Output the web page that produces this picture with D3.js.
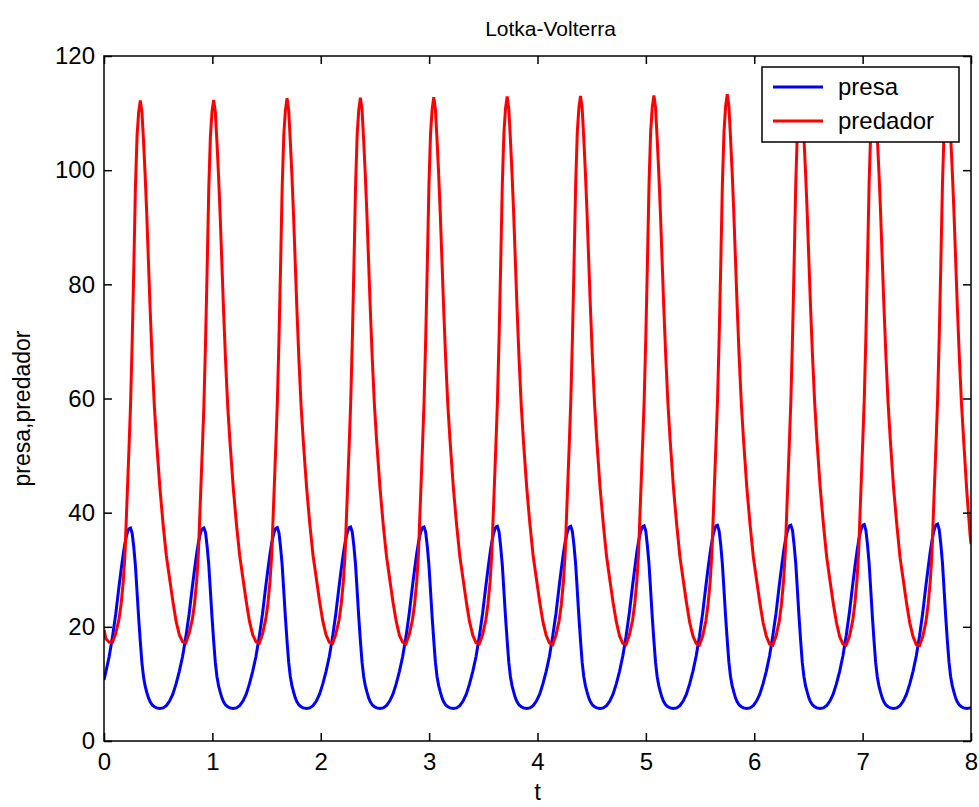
<!DOCTYPE html>
<html><head><meta charset="utf-8">
<script src="https://cdn.jsdelivr.net/npm/d3@7"></script>
<style>
html,body{margin:0;padding:0;background:#fff;}
svg text{font-family:"Liberation Sans",Arial,sans-serif;fill:#000;}
</style></head><body>
<svg id="chart" width="979" height="807"></svg>
<script>
// ---- data ----
const t = [
 0, 0.018, 0.048, 0.078, 0.108, 0.138, 0.158, 0.178, 0.193, 0.208, 0.223, 0.233,
 0.245, 0.260, 0.275, 0.290, 0.305, 0.320, 0.335, 0.350, 0.365, 0.380, 0.395, 0.410, 0.425, 0.445, 0.465, 0.485, 0.515, 0.545, 0.575, 0.605, 0.635, 0.665, 0.695, 0.725, 0.755, 0.785, 0.815, 0.835, 0.855, 0.870, 0.885, 0.900, 0.910,
 0.922, 0.937, 0.952, 0.967, 0.982, 0.997, 1.012, 1.027, 1.042, 1.057, 1.072, 1.087, 1.102, 1.122, 1.142, 1.162, 1.192, 1.222, 1.252, 1.282, 1.312, 1.342, 1.372, 1.402, 1.432, 1.462, 1.492, 1.512, 1.532, 1.547, 1.562, 1.577, 1.587,
 1.599, 1.614, 1.629, 1.644, 1.659, 1.674, 1.689, 1.704, 1.719, 1.734, 1.749, 1.764, 1.779, 1.799, 1.819, 1.839, 1.869, 1.899, 1.929, 1.959, 1.989, 2.019, 2.049, 2.079, 2.109, 2.139, 2.169, 2.189, 2.209, 2.224, 2.239, 2.254, 2.264,
 2.276, 2.291, 2.306, 2.321, 2.336, 2.351, 2.366, 2.381, 2.396, 2.411, 2.426, 2.441, 2.456, 2.476, 2.496, 2.516, 2.546, 2.576, 2.606, 2.636, 2.666, 2.696, 2.726, 2.756, 2.786, 2.816, 2.846, 2.866, 2.886, 2.901, 2.916, 2.931, 2.941,
 2.953, 2.968, 2.983, 2.998, 3.013, 3.028, 3.043, 3.058, 3.073, 3.088, 3.103, 3.118, 3.133, 3.153, 3.173, 3.193, 3.223, 3.253, 3.283, 3.313, 3.343, 3.373, 3.403, 3.433, 3.463, 3.493, 3.523, 3.543, 3.563, 3.578, 3.593, 3.608, 3.618,
 3.630, 3.645, 3.660, 3.675, 3.690, 3.705, 3.720, 3.735, 3.750, 3.765, 3.780, 3.795, 3.810, 3.830, 3.850, 3.870, 3.900, 3.930, 3.960, 3.990, 4.020, 4.050, 4.080, 4.110, 4.140, 4.170, 4.200, 4.220, 4.240, 4.255, 4.270, 4.285, 4.295,
 4.307, 4.322, 4.337, 4.352, 4.367, 4.382, 4.397, 4.412, 4.427, 4.442, 4.457, 4.472, 4.487, 4.507, 4.527, 4.547, 4.577, 4.607, 4.637, 4.667, 4.697, 4.727, 4.757, 4.787, 4.817, 4.847, 4.877, 4.897, 4.917, 4.932, 4.947, 4.962, 4.972,
 4.984, 4.999, 5.014, 5.029, 5.044, 5.059, 5.074, 5.089, 5.104, 5.119, 5.134, 5.149, 5.164, 5.184, 5.204, 5.224, 5.254, 5.284, 5.314, 5.344, 5.374, 5.404, 5.434, 5.464, 5.494, 5.524, 5.554, 5.574, 5.594, 5.609, 5.624, 5.639, 5.649,
 5.661, 5.676, 5.691, 5.706, 5.721, 5.736, 5.751, 5.766, 5.781, 5.796, 5.811, 5.826, 5.841, 5.861, 5.881, 5.901, 5.931, 5.961, 5.991, 6.021, 6.051, 6.081, 6.111, 6.141, 6.171, 6.201, 6.231, 6.251, 6.271, 6.286, 6.301, 6.316, 6.326,
 6.338, 6.353, 6.368, 6.383, 6.398, 6.413, 6.428, 6.443, 6.458, 6.473, 6.488, 6.503, 6.518, 6.538, 6.558, 6.578, 6.608, 6.638, 6.668, 6.698, 6.728, 6.758, 6.788, 6.818, 6.848, 6.878, 6.908, 6.928, 6.948, 6.963, 6.978, 6.993, 7.003,
 7.015, 7.030, 7.045, 7.060, 7.075, 7.090, 7.105, 7.120, 7.135, 7.150, 7.165, 7.180, 7.195, 7.215, 7.235, 7.255, 7.285, 7.315, 7.345, 7.375, 7.405, 7.435, 7.465, 7.495, 7.525, 7.555, 7.585, 7.605, 7.625, 7.640, 7.655, 7.670, 7.680,
 7.692, 7.707, 7.722, 7.737, 7.752, 7.767, 7.782, 7.797, 7.812, 7.827, 7.842, 7.857, 7.872, 7.892, 7.912, 7.932, 7.962, 7.992, 8.000
];
const presa = [
 10.7, 12.2, 14.8, 18.2, 22.2, 27.0, 30.0, 32.8, 34.6, 36.0, 37.0, 37.2,
 37.3, 36.4, 33.9, 30.7, 26.1, 21.5, 17.4, 13.7, 11.2, 9.6, 8.5, 7.6, 6.9, 6.3, 6.0, 5.8, 5.7, 5.8, 6.2, 7.0, 8.2, 10.0, 12.2, 14.8, 18.2, 22.2, 27.0, 30.0, 32.8, 34.6, 36.0, 37.0, 37.2,
 37.3, 36.5, 34.0, 30.8, 26.2, 21.6, 17.5, 13.8, 11.3, 9.7, 8.6, 7.6, 6.9, 6.3, 6.0, 5.8, 5.7, 5.8, 6.2, 7.0, 8.2, 10.0, 12.2, 14.8, 18.2, 22.2, 27.0, 30.0, 32.8, 34.6, 36.0, 37.0, 37.3,
 37.4, 36.5, 34.0, 30.8, 26.2, 21.6, 17.5, 13.8, 11.3, 9.7, 8.6, 7.6, 6.9, 6.3, 6.0, 5.8, 5.7, 5.8, 6.2, 7.0, 8.2, 10.0, 12.2, 14.8, 18.2, 22.3, 27.1, 30.1, 32.9, 34.7, 36.1, 37.1, 37.4,
 37.5, 36.6, 34.1, 30.9, 26.3, 21.6, 17.5, 13.8, 11.3, 9.7, 8.6, 7.6, 6.9, 6.3, 6.0, 5.8, 5.7, 5.8, 6.2, 7.0, 8.2, 10.0, 12.2, 14.8, 18.2, 22.3, 27.1, 30.1, 32.9, 34.7, 36.1, 37.1, 37.4,
 37.5, 36.6, 34.1, 30.9, 26.3, 21.7, 17.6, 13.8, 11.3, 9.7, 8.6, 7.6, 6.9, 6.3, 6.0, 5.8, 5.7, 5.8, 6.2, 7.0, 8.2, 10.0, 12.2, 14.8, 18.3, 22.3, 27.1, 30.1, 33.0, 34.8, 36.2, 37.2, 37.5,
 37.6, 36.7, 34.1, 30.9, 26.3, 21.7, 17.6, 13.8, 11.3, 9.7, 8.6, 7.6, 6.9, 6.3, 6.0, 5.8, 5.7, 5.8, 6.2, 7.0, 8.2, 10.0, 12.2, 14.8, 18.3, 22.3, 27.1, 30.2, 33.0, 34.8, 36.2, 37.2, 37.5,
 37.6, 36.7, 34.2, 31.0, 26.4, 21.7, 17.6, 13.8, 11.3, 9.7, 8.6, 7.6, 6.9, 6.3, 6.0, 5.8, 5.7, 5.8, 6.2, 7.0, 8.2, 10.0, 12.2, 14.9, 18.3, 22.4, 27.2, 30.2, 33.1, 34.9, 36.3, 37.3, 37.6,
 37.7, 36.8, 34.2, 31.0, 26.4, 21.7, 17.6, 13.8, 11.3, 9.7, 8.6, 7.6, 6.9, 6.3, 6.0, 5.8, 5.7, 5.8, 6.2, 7.0, 8.2, 10.0, 12.2, 14.9, 18.3, 22.4, 27.2, 30.3, 33.1, 34.9, 36.4, 37.4, 37.7,
 37.8, 36.8, 34.3, 31.0, 26.4, 21.7, 17.6, 13.8, 11.3, 9.7, 8.6, 7.6, 6.9, 6.3, 6.0, 5.8, 5.7, 5.8, 6.2, 7.0, 8.2, 10.0, 12.2, 14.9, 18.4, 22.4, 27.3, 30.3, 33.2, 35.0, 36.4, 37.4, 37.7,
 37.8, 36.9, 34.3, 31.1, 26.5, 21.8, 17.6, 13.8, 11.3, 9.7, 8.6, 7.6, 6.9, 6.3, 6.0, 5.8, 5.7, 5.8, 6.2, 7.0, 8.2, 10.0, 12.2, 14.9, 18.4, 22.5, 27.3, 30.4, 33.2, 35.1, 36.5, 37.5, 37.8,
 37.9, 36.9, 34.4, 31.1, 26.5, 21.8, 17.6, 13.8, 11.3, 9.7, 8.6, 7.6, 6.9, 6.3, 6.0, 5.8, 5.7, 5.8, 6.2, 7.0, 8.2, 10.0, 12.2, 14.9, 18.4, 22.5, 27.4, 30.4, 33.3, 35.1, 36.6, 37.6, 37.9,
 38.0, 37.0, 34.4, 31.1, 26.4, 21.7, 17.5, 13.8, 11.3, 9.7, 8.6, 7.6, 6.9, 6.3, 6.0, 5.8, 5.7, 5.8, 5.8
];
const predador = [
 19.5, 17.9, 17.3, 17.3, 18.8, 21.3, 24.0, 28.0, 32.5, 40.0, 47.5, 52.5,
 59, 70, 83, 97, 106, 110.2, 112.2, 110.2, 105, 99, 92, 84, 76, 66.5, 58.5, 52.5, 44.5, 38, 32.5, 28.5, 24.5, 21, 18.6, 17.4, 17.2, 18.8, 21.3, 24, 28, 32.5, 40, 47.5, 52.5,
 59, 70, 83, 97, 106, 110.3, 112.3, 110.3, 105, 99, 92, 84, 76, 66.5, 58.5, 52.5, 44.5, 38, 32.5, 28.5, 24.5, 21, 18.6, 17.4, 17.1, 18.7, 21.3, 24, 28, 32.5, 40, 47.5, 52.6,
 59, 70, 83, 97, 106.2, 110.5, 112.6, 110.5, 105.1, 99.1, 92.1, 84.1, 76.1, 66.6, 58.6, 52.5, 44.5, 38, 32.5, 28.5, 24.5, 21, 18.6, 17.3, 17.1, 18.7, 21.2, 24, 28, 32.6, 40.1, 47.6, 52.7,
 59.1, 70.1, 83.1, 97.1, 106.3, 110.6, 112.7, 110.6, 105.2, 99.2, 92.2, 84.2, 76.2, 66.7, 58.6, 52.5, 44.5, 38, 32.5, 28.4, 24.4, 21, 18.5, 17.3, 17.0, 18.6, 21.2, 24, 28, 32.6, 40.2, 47.7, 52.8,
 59.2, 70.2, 83.2, 97.2, 106.4, 110.7, 112.8, 110.7, 105.3, 99.3, 92.3, 84.3, 76.3, 66.8, 58.7, 52.6, 44.5, 38, 32.4, 28.4, 24.4, 20.9, 18.5, 17.2, 17.0, 18.6, 21.2, 24, 28, 32.7, 40.3, 47.8, 52.9,
 59.3, 70.3, 83.3, 97.3, 106.5, 110.8, 112.9, 110.8, 105.4, 99.4, 92.4, 84.4, 76.4, 66.9, 58.8, 52.6, 44.5, 38, 32.4, 28.4, 24.4, 20.9, 18.5, 17.2, 16.9, 18.5, 21.1, 24, 28.1, 32.8, 40.4, 47.9, 53.0,
 59.4, 70.4, 83.4, 97.4, 106.6, 110.9, 113.0, 110.9, 105.5, 99.5, 92.5, 84.5, 76.5, 67.0, 58.9, 52.7, 44.5, 38, 32.4, 28.3, 24.3, 20.9, 18.4, 17.1, 16.9, 18.5, 21.1, 24, 28.1, 32.8, 40.5, 48.0, 53.1,
 59.5, 70.5, 83.5, 97.5, 106.7, 111.0, 113.1, 111.0, 105.6, 99.6, 92.6, 84.6, 76.6, 67.1, 59.0, 52.7, 44.5, 38, 32.3, 28.3, 24.3, 20.8, 18.4, 17.1, 16.8, 18.4, 21.1, 24, 28.1, 32.9, 40.6, 48.1, 53.2,
 59.6, 70.6, 83.6, 97.6, 106.8, 111.2, 113.3, 111.2, 105.7, 99.7, 92.7, 84.7, 76.7, 67.2, 59.0, 52.8, 44.5, 38, 32.3, 28.3, 24.3, 20.8, 18.4, 17.0, 16.8, 18.4, 21.0, 24, 28.2, 33.0, 40.7, 48.2, 53.3,
 59.7, 70.7, 83.7, 97.7, 106.9, 111.2, 113.3, 111.2, 105.8, 99.8, 92.8, 84.8, 76.8, 67.3, 59.1, 52.8, 44.5, 38, 32.3, 28.2, 24.2, 20.8, 18.3, 17.0, 16.8, 18.3, 21.0, 24, 28.2, 33.0, 40.8, 48.3, 53.4,
 59.8, 70.8, 83.8, 97.8, 107.0, 111.3, 113.4, 111.3, 105.9, 99.9, 92.9, 84.9, 76.9, 67.4, 59.2, 52.9, 44.5, 38, 32.2, 28.2, 24.2, 20.7, 18.3, 16.9, 16.7, 18.3, 21.0, 24, 28.2, 33.1, 40.9, 48.4, 53.5,
 59.9, 70.9, 83.9, 97.9, 107.1, 111.4, 113.5, 111.3, 106.0, 100.0, 93.0, 85.0, 77.0, 67.4, 59.2, 52.8, 43.5, 36.0, 34.5
];
const xTicks = [0, 1, 2, 3, 4, 5, 6, 7, 8];
const yTicks = [0, 20, 40, 60, 80, 100, 120];
const seriesNames = ["presa", "predador"];
const seriesColors = ["#0000ff", "#ff0000"];
const titleText = "Lotka-Volterra";
const xLabelText = "t";
const yLabelText = "presa,predador";

// ---- drawing ----
const svg = d3.select("#chart");
svg.append("rect").attr("width", 979).attr("height", 807).attr("fill", "#fff");
const L = 104, R = 971, T = 56, B = 741;
const x = d3.scaleLinear().domain([0, 8]).range([L, R]);
const y = d3.scaleLinear().domain([0, 120]).range([B, T]);
const FS = 24;

svg.append("clipPath").attr("id", "clip").append("rect")
  .attr("x", L).attr("y", T).attr("width", R - L).attr("height", B - T);

const line = d3.line().x((d, i) => x(t[i])).y(d => y(d));
const series = [presa, predador];
const plot = svg.append("g").attr("clip-path", "url(#clip)");
series.forEach((s, k) => {
  plot.append("path").attr("d", line(s)).attr("fill", "none")
    .attr("stroke", seriesColors[k]).attr("stroke-width", 3)
    .attr("stroke-linejoin", "miter");
});

function styleAxis(g, labels) {
  g.select(".domain").remove();
  g.selectAll(".tick line").attr("stroke", "#000").attr("stroke-width", 1.5);
  g.selectAll(".tick text").attr("font-size", FS).attr("font-family", "Liberation Sans, Arial, sans-serif")
    .attr("fill", "#000");
  if (!labels) g.selectAll(".tick text").remove();
}
svg.append("g").attr("transform", `translate(0,${B})`)
  .call(d3.axisBottom(x).tickValues(xTicks).tickSizeInner(-8).tickSizeOuter(0).tickPadding(12).tickFormat(d3.format("d")))
  .call(g => styleAxis(g, true));
svg.append("g").attr("transform", `translate(0,${T})`)
  .call(d3.axisTop(x).tickValues(xTicks).tickSizeInner(-8).tickSizeOuter(0))
  .call(g => styleAxis(g, false));
svg.append("g").attr("transform", `translate(${L},0)`)
  .call(d3.axisLeft(y).tickValues(yTicks).tickSizeInner(-8).tickSizeOuter(0).tickPadding(9).tickFormat(d3.format("d")))
  .call(g => styleAxis(g, true));
svg.append("g").attr("transform", `translate(${R},0)`)
  .call(d3.axisRight(y).tickValues(yTicks).tickSizeInner(-8).tickSizeOuter(0))
  .call(g => styleAxis(g, false));

svg.append("rect").attr("x", L).attr("y", T).attr("width", R - L).attr("height", B - T)
  .attr("fill", "none").attr("stroke", "#000").attr("stroke-width", 1.5);

// title and labels
svg.append("text").attr("x", (L + R) / 2 + 13).attr("y", 36).attr("text-anchor", "middle")
  .attr("font-size", 21).text(titleText);
svg.append("text").attr("x", (L + R) / 2).attr("y", 800).attr("text-anchor", "middle")
  .attr("font-size", FS).text(xLabelText);
svg.append("text").attr("transform", `translate(30,${(T + B) / 2 + 10}) rotate(-90)`)
  .attr("text-anchor", "middle").attr("font-size", 23).text(yLabelText);

// legend
const lg = svg.append("g");
lg.append("rect").attr("x", 762).attr("y", 67).attr("width", 197).attr("height", 75)
  .attr("fill", "#fff").attr("stroke", "#000").attr("stroke-width", 1.5);
seriesNames.forEach((n, k) => {
  const yy = 87 + k * 34;
  lg.append("line").attr("x1", 773).attr("x2", 823).attr("y1", yy).attr("y2", yy)
    .attr("stroke", seriesColors[k]).attr("stroke-width", 3);
  lg.append("text").attr("x", 838).attr("y", yy).attr("dy", "0.35em")
    .attr("font-size", FS).text(n);
});
</script>
</body></html>
